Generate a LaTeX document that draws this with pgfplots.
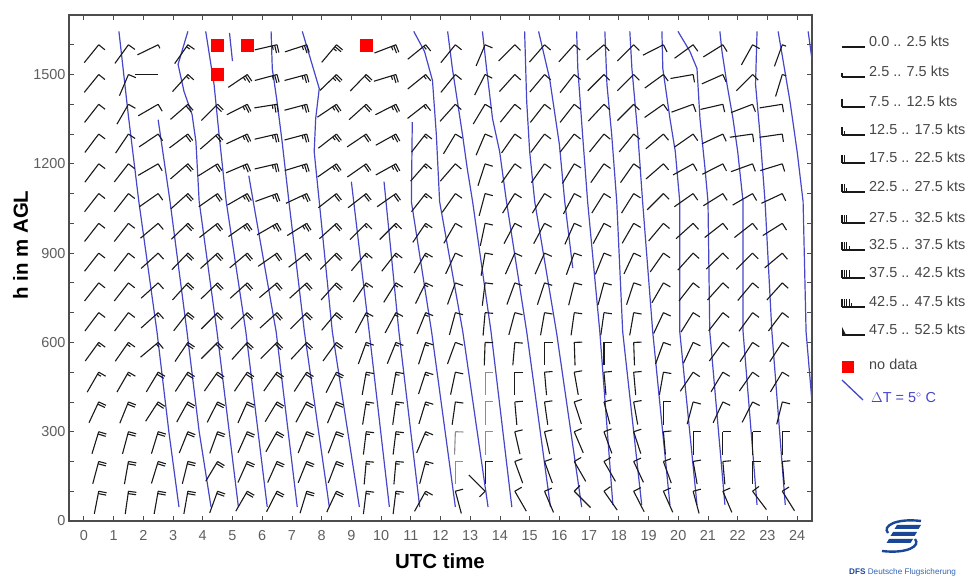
\documentclass[border=0pt]{standalone}
\usepackage{pgfplots}
\pgfplotsset{compat=1.18}
\usepackage{pgfplotstable}
\usepackage{fontspec}
\setmainfont{Liberation Sans}

\definecolor{tline}{RGB}{70,70,200}
\definecolor{barbc}{RGB}{25,25,25}
\definecolor{barbg}{RGB}{140,140,140}
\definecolor{ticklab}{RGB}{95,95,95}
\definecolor{legtext}{RGB}{70,70,70}
\definecolor{dfsblue}{RGB}{25,70,150}
\definecolor{dfslight}{RGB}{50,100,180}

\pgfdeclareplotmark{nomark}{}
\def\barbcol{barbc}

% wind barb: #1 = shaft angle seen from the tip (deg), #2 = speed in kts
\newcommand\drawbarb[2]{%
  \pgfmathsetmacro\bcx{cos(#1)}\pgfmathsetmacro\bsy{sin(#1)}%
  \pgfmathtruncatemacro\bnh{round(#2/5)}%
  \pgfmathtruncatemacro\bnf{floor(\bnh/2)}%
  \pgfmathtruncatemacro\bnhalf{\bnh-2*\bnf}%
  \pgfmathsetmacro\bex{23*\bcx}\pgfmathsetmacro\bey{23*\bsy}%
  \pgfmathsetmacro\bfx{-8*\bsy}\pgfmathsetmacro\bfy{8*\bcx}%
  \pgfmathsetmacro\bhx{-4*\bsy}\pgfmathsetmacro\bhy{4*\bcx}%
  \draw[\barbcol, line width=1.1bp] (0bp,0bp) -- (\bex bp,\bey bp);
  \ifnum\bnh>9
    \pgfmathsetmacro\btx{4*\bcx}\pgfmathsetmacro\bty{4*\bsy}%
    \fill[\barbcol] (0bp,0bp) -- (\bfx bp,\bfy bp) -- (\btx bp,\bty bp) -- cycle;
  \else
    \ifnum\bnf>0
      \foreach \bi in {1,...,\bnf}{%
        \pgfmathsetmacro\bpx{(\bi-1)*2.4*\bcx}\pgfmathsetmacro\bpy{(\bi-1)*2.4*\bsy}%
        \draw[\barbcol, line width=1.1bp] (\bpx bp,\bpy bp) -- ++(\bfx bp,\bfy bp);}%
    \fi
    \ifnum\bnhalf>0
      \pgfmathsetmacro\bpx{\bnf*2.4*\bcx}\pgfmathsetmacro\bpy{\bnf*2.4*\bsy}%
      \draw[\barbcol, line width=1.1bp] (\bpx bp,\bpy bp) -- ++(\bhx bp,\bhy bp);%
    \fi
  \fi}

% wind barbs: time, height, shaft angle, speed (kts)
\pgfplotstableread[row sep=\\]{
x h d s\\
0.5 1600 231 10\\ 0.5 1500 231 10\\ 0.5 1400 232 10\\ 0.5 1300 233 10\\ 0.5 1200 233 10\\ 0.5 1100 232 10\\ 0.5 1000 232 10\\ 0.5 900 232 10\\
0.5 800 232 10\\ 0.5 700 233 10\\ 0.5 600 234 15\\ 0.5 500 240 15\\ 0.5 400 245 20\\ 0.5 300 253 20\\ 0.5 200 255 20\\ 0.5 100 259 20\\
1.5 1600 234 10\\ 1.5 1500 247 10\\ 1.5 1400 240 10\\ 1.5 1300 236 10\\ 1.5 1200 232 10\\ 1.5 1100 232 10\\ 1.5 1000 232 10\\ 1.5 900 232 10\\
1.5 800 232 10\\ 1.5 700 233 10\\ 1.5 600 235 15\\ 1.5 500 240 15\\ 1.5 400 248 20\\ 1.5 300 255 20\\ 1.5 200 260 20\\ 1.5 100 262 20\\
2.5 1600 206 5\\ 2.5 1500 180 2\\ 2.5 1400 210 10\\ 2.5 1300 214 10\\ 2.5 1200 210 10\\ 2.5 1100 215 10\\ 2.5 1000 220 10\\ 2.5 900 222 10\\
2.5 800 222 10\\ 2.5 700 222 15\\ 2.5 600 220 15\\ 2.5 500 239 20\\ 2.5 400 237 20\\ 2.5 300 253 20\\ 2.5 200 253 20\\ 2.5 100 260 20\\
3.5 1600 235 15\\ 3.5 1500 228 15\\ 3.5 1400 221 20\\ 3.5 1300 217 20\\ 3.5 1200 221 20\\ 3.5 1100 222 20\\ 3.5 1000 224 20\\ 3.5 900 226 20\\
3.5 800 228 20\\ 3.5 700 232 20\\ 3.5 600 236 20\\ 3.5 500 237 20\\ 3.5 400 241 20\\ 3.5 300 248 20\\ 3.5 200 256 20\\ 3.5 100 260 20\\
4.5 1400 225 20\\ 4.5 1300 221 20\\ 4.5 1200 212 20\\ 4.5 1100 215 20\\ 4.5 1000 218 20\\ 4.5 900 222 20\\
4.5 800 224 20\\ 4.5 700 225 20\\ 4.5 600 225 20\\ 4.5 500 235 20\\ 4.5 400 243 20\\ 4.5 300 250 20\\ 4.5 200 239 20\\ 4.5 100 250 20\\
5.5 1500 214 25\\ 5.5 1400 207 25\\ 5.5 1300 205 25\\ 5.5 1200 203 25\\ 5.5 1100 210 25\\ 5.5 1000 215 25\\ 5.5 900 220 20\\
5.5 800 222 20\\ 5.5 700 225 20\\ 5.5 600 228 20\\ 5.5 500 236 20\\ 5.5 400 246 20\\ 5.5 300 246 20\\ 5.5 200 246 20\\ 5.5 100 240 20\\
6.5 1600 193 25\\ 6.5 1500 195 25\\ 6.5 1400 189 25\\ 6.5 1300 193 25\\ 6.5 1200 193 25\\ 6.5 1100 200 25\\ 6.5 1000 210 25\\ 6.5 900 215 20\\
6.5 800 220 20\\ 6.5 700 222 20\\ 6.5 600 225 20\\ 6.5 500 235 20\\ 6.5 400 239 20\\ 6.5 300 241 20\\ 6.5 200 246 20\\ 6.5 100 243 20\\
7.5 1600 198 25\\ 7.5 1500 195 25\\ 7.5 1400 195 25\\ 7.5 1300 195 25\\ 7.5 1200 197 25\\ 7.5 1100 205 25\\ 7.5 1000 212 25\\ 7.5 900 218 20\\
7.5 800 222 20\\ 7.5 700 225 20\\ 7.5 600 227 20\\ 7.5 500 237 20\\ 7.5 400 242 20\\ 7.5 300 248 20\\ 7.5 200 248 20\\ 7.5 100 253 20\\
8.5 1600 230 25\\ 8.5 1500 224 25\\ 8.5 1400 214 25\\ 8.5 1300 218 25\\ 8.5 1200 215 25\\ 8.5 1100 218 20\\ 8.5 1000 222 20\\ 8.5 900 225 20\\
8.5 800 228 20\\ 8.5 700 230 20\\ 8.5 600 234 20\\ 8.5 500 243 20\\ 8.5 400 247 20\\ 8.5 300 249 20\\ 8.5 200 249 20\\ 8.5 100 245 20\\
9.5 1500 226 20\\ 9.5 1400 222 20\\ 9.5 1300 214 20\\ 9.5 1200 215 20\\ 9.5 1100 218 20\\ 9.5 1000 225 15\\ 9.5 900 230 15\\
9.5 800 236 15\\ 9.5 700 242 15\\ 9.5 600 250 15\\ 9.5 500 260 15\\ 9.5 400 261 15\\ 9.5 300 263 15\\ 9.5 200 265 15\\ 9.5 100 263 15\\
10.5 1600 201 25\\ 10.5 1500 197 25\\ 10.5 1400 207 25\\ 10.5 1300 209 25\\ 10.5 1200 209 25\\ 10.5 1100 215 20\\ 10.5 1000 225 15\\ 10.5 900 232 15\\
10.5 800 238 15\\ 10.5 700 242 15\\ 10.5 600 248 15\\ 10.5 500 260 15\\ 10.5 400 262 15\\ 10.5 300 263 15\\ 10.5 200 265 15\\ 10.5 100 263 15\\
11.5 1600 219 15\\ 11.5 1500 219 15\\ 11.5 1400 218 15\\ 11.5 1300 232 15\\ 11.5 1200 229 15\\ 11.5 1100 232 15\\ 11.5 1000 236 15\\ 11.5 900 240 15\\
11.5 800 244 15\\ 11.5 700 248 15\\ 11.5 600 252 15\\ 11.5 500 252 15\\ 11.5 400 253 15\\ 11.5 300 247 15\\ 11.5 200 255 15\\ 11.5 100 241 15\\
12.5 1600 231 10\\ 12.5 1500 231 10\\ 12.5 1400 228 10\\ 12.5 1300 239 10\\ 12.5 1200 229 10\\ 12.5 1100 235 10\\ 12.5 1000 240 10\\ 12.5 900 245 10\\
12.5 800 250 10\\ 12.5 700 255 10\\ 12.5 600 250 10\\ 12.5 500 258 10\\ 12.5 400 262 10\\ 12.5 100 285 10\\
13.5 1600 247 10\\ 13.5 1500 243 10\\ 13.5 1400 239 10\\ 13.5 1300 247 10\\ 13.5 1200 252 10\\ 13.5 1100 255 10\\ 13.5 1000 258 10\\ 13.5 900 260 10\\
13.5 800 263 10\\ 13.5 700 265 10\\ 13.5 600 268 10\\ 13.5 200 270 10\\ 13.5 100 135 10\\
14.5 1600 225 10\\ 14.5 1500 228 10\\ 14.5 1400 231 10\\ 14.5 1300 235 10\\ 14.5 1200 235 10\\ 14.5 1100 238 10\\ 14.5 1000 242 10\\ 14.5 900 246 10\\
14.5 800 250 10\\ 14.5 700 255 10\\ 14.5 600 265 10\\ 14.5 500 270 10\\ 14.5 400 275 10\\ 14.5 300 283 10\\ 14.5 200 290 10\\ 14.5 100 300 10\\
15.5 1600 229 10\\ 15.5 1500 230 10\\ 15.5 1400 232 10\\ 15.5 1300 233 10\\ 15.5 1200 235 10\\ 15.5 1100 238 10\\ 15.5 1000 242 10\\ 15.5 900 246 10\\
15.5 800 252 10\\ 15.5 700 260 10\\ 15.5 600 270 10\\ 15.5 500 275 10\\ 15.5 400 278 10\\ 15.5 300 283 10\\ 15.5 200 290 10\\ 15.5 100 293 10\\
16.5 1600 228 10\\ 16.5 1500 232 10\\ 16.5 1400 232 10\\ 16.5 1300 232 10\\ 16.5 1200 239 10\\ 16.5 1100 242 10\\ 16.5 1000 246 10\\ 16.5 900 250 10\\
16.5 800 256 10\\ 16.5 700 262 10\\ 16.5 600 272 10\\ 16.5 500 280 10\\ 16.5 400 288 10\\ 16.5 300 293 10\\ 16.5 200 300 10\\ 16.5 100 315 10\\
17.5 1600 221 10\\ 17.5 1500 225 10\\ 17.5 1400 227 10\\ 17.5 1300 231 10\\ 17.5 1200 235 10\\ 17.5 1100 238 10\\ 17.5 1000 242 10\\ 17.5 900 248 10\\
17.5 800 255 10\\ 17.5 700 262 10\\ 17.5 600 270 10\\ 17.5 500 275 10\\ 17.5 400 285 10\\ 17.5 300 290 10\\ 17.5 200 300 10\\ 17.5 100 305 10\\
18.5 1600 225 10\\ 18.5 1500 225 10\\ 18.5 1400 225 10\\ 18.5 1300 231 10\\ 18.5 1200 235 10\\ 18.5 1100 238 10\\ 18.5 1000 240 10\\ 18.5 900 245 10\\
18.5 800 252 10\\ 18.5 700 260 10\\ 18.5 600 272 10\\ 18.5 500 275 10\\ 18.5 400 280 10\\ 18.5 300 288 10\\ 18.5 200 295 10\\ 18.5 100 297 10\\
19.5 1600 207 10\\ 19.5 1500 216 10\\ 19.5 1400 215 10\\ 19.5 1300 220 10\\ 19.5 1200 221 10\\ 19.5 1100 225 10\\ 19.5 1000 230 10\\ 19.5 900 235 10\\
19.5 800 240 10\\ 19.5 700 245 10\\ 19.5 600 250 10\\ 19.5 500 260 10\\ 19.5 400 270 10\\ 19.5 300 275 10\\ 19.5 200 290 10\\ 19.5 100 294 10\\
20.5 1600 216 10\\ 20.5 1500 190 10\\ 20.5 1400 200 10\\ 20.5 1300 215 10\\ 20.5 1200 209 10\\ 20.5 1100 215 10\\ 20.5 1000 222 10\\ 20.5 900 228 10\\
20.5 800 232 10\\ 20.5 700 238 10\\ 20.5 600 245 10\\ 20.5 500 236 10\\ 20.5 400 255 10\\ 20.5 300 270 10\\ 20.5 200 280 10\\ 20.5 100 285 10\\
21.5 1600 212 10\\ 21.5 1500 204 10\\ 21.5 1400 193 10\\ 21.5 1300 205 10\\ 21.5 1200 207 10\\ 21.5 1100 212 10\\ 21.5 1000 218 10\\ 21.5 900 224 10\\
21.5 800 228 10\\ 21.5 700 232 10\\ 21.5 600 234 10\\ 21.5 500 239 10\\ 21.5 400 245 10\\ 21.5 300 270 10\\ 21.5 200 275 10\\ 21.5 100 293 10\\
22.5 1600 241 10\\ 22.5 1500 225 10\\ 22.5 1400 201 10\\ 22.5 1300 188 10\\ 22.5 1200 200 10\\ 22.5 1100 210 10\\ 22.5 1000 218 10\\ 22.5 900 225 10\\
22.5 800 230 10\\ 22.5 700 234 10\\ 22.5 600 237 10\\ 22.5 500 235 10\\ 22.5 400 243 10\\ 22.5 300 270 10\\ 22.5 200 270 10\\ 22.5 100 307 10\\
23.5 1600 250 5\\ 23.5 1500 253 5\\ 23.5 1400 189 10\\ 23.5 1300 188 10\\ 23.5 1200 197 10\\ 23.5 1100 205 10\\ 23.5 1000 212 10\\ 23.5 900 220 10\\
23.5 800 228 10\\ 23.5 700 233 10\\ 23.5 600 237 10\\ 23.5 500 239 10\\ 23.5 400 256 10\\ 23.5 300 270 10\\ 23.5 200 275 10\\ 23.5 100 302 10\\
}\barbs

% barbs drawn in grey in the original
\pgfplotstableread[row sep=\\]{
x h d s\\
12.5 300 268 10\\ 12.5 200 270 10\\ 13.5 500 270 10\\ 13.5 400 270 10\\ 13.5 300 270 10\\
}\greybarbs

\begin{document}
\begin{tikzpicture}
\begin{axis}[
    scale only axis,
    width=743bp, height=506bp,
    xmin=-0.5, xmax=24.5,
    ymin=0, ymax=1700,
    xtick={0,...,24},
    ytick={0,300,...,1500},
    minor ytick={100,200,...,1600},
    major tick length=5bp, minor tick length=5bp,
    tick style={black!70, line width=0.8bp},
    axis line style={black!70, line width=1.3bp},
    tick label style={font=\fontsize{14.5}{14.5}\selectfont, text=ticklab},
    /pgf/number format/assume math mode=true,
    /pgf/number format/set thousands separator={},
    xticklabel style={anchor=base, yshift=-19bp},
    tprof/.style={tline, line width=1.2bp},
]
% wind barbs
\addplot[scatter, only marks, mark=nomark,
    visualization depends on={\thisrow{d} \as \bdir},
    visualization depends on={\thisrow{s} \as \bspd},
    scatter/@pre marker code/.code={\drawbarb{\bdir}{\bspd}},
    scatter/@post marker code/.code={},
] table[x=x, y=h] {\barbs};
\addplot[scatter, only marks, mark=nomark,
    visualization depends on={\thisrow{d} \as \bdir},
    visualization depends on={\thisrow{s} \as \bspd},
    scatter/@pre marker code/.code={\def\barbcol{barbg}\drawbarb{\bdir}{\bspd}},
    scatter/@post marker code/.code={},
] table[x=x, y=h] {\greybarbs};

% temperature profiles (Delta T = 5 C per hour step)
\addplot[tprof] coordinates {(1.18,1645) (1.5,1360) (1.85,1073) (2.46,636) (2.86,300) (3.2,47)};
\addplot[tprof] coordinates {(2.5,1348) (2.9,1073) (3.47,636) (3.88,300) (4.28,47)};
\addplot[tprof] coordinates {(3.5,1645) (3.17,1534) (3.37,1443) (3.64,1366) (3.77,1275) (3.88,1073) (4.48,636) (5.2,47)};
\addplot[tprof] coordinates {(4.1,1645) (4.38,1467) (4.55,1298) (4.79,1073) (5.45,636) (6.17,47)};
\addplot[tprof] coordinates {(4.9,1640) (5.0,1545)};
\addplot[tprof] coordinates {(5.55,1160) (5.7,1073) (6.47,636) (7.18,47)};
\addplot[tprof] coordinates {(6.3,1645) (6.34,1520) (6.5,1409) (6.67,1275) (6.9,1073) (7.42,636) (8.26,47)};
\addplot[tprof] coordinates {(7.35,1645) (7.92,1453) (7.8,1352) (7.75,1241) (7.92,1073) (8.36,636) (9.27,47)};
\addplot[tprof] coordinates {(9.0,1140) (9.6,636) (10.28,47)};
\addplot[tprof] coordinates {(10.1,1140) (10.6,636) (11.3,47)};
\addplot[tprof] coordinates {(11.05,1340) (11.02,1073) (11.7,636) (12.5,47)};
\addplot[tprof] coordinates {(11.1,1645) (11.46,1578) (11.73,1480) (11.86,1298) (11.97,1073) (12.75,636) (13.6,47)};
\addplot[tprof] coordinates {(12.24,1645) (12.4,1520) (12.57,1409) (12.74,1298) (12.9,1184) (13.08,1073) (13.7,636) (14.4,47)};
\addplot[tprof] coordinates {(13.41,1645) (13.55,1520) (13.75,1352) (13.99,1241) (14.22,1073) (14.9,636) (15.7,47)};
\addplot[tprof] coordinates {(14.83,1645) (14.9,1409) (15.0,1241) (15.17,1073) (15.9,636) (16.75,47)};
\addplot[tprof] coordinates {(15.3,1645) (15.67,1487) (16.0,1265) (16.18,1073) (16.45,850)};
\addplot[tprof] coordinates {(16.58,1645) (16.62,1520) (16.78,1298) (16.95,1073) (17.36,636) (17.8,54)};
\addplot[tprof] coordinates {(17.53,1645) (17.6,1467) (17.76,1298) (17.93,1073) (18.13,636) (18.77,54)};
\addplot[tprof] coordinates {(18.37,1645) (18.44,1520) (18.64,1298) (18.8,1073) (19.14,636) (19.72,54)};
\addplot[tprof] coordinates {(19.45,1645) (19.48,1520) (19.72,1352) (19.9,1241) (20.05,1073) (20.05,636) (20.63,54)};
\addplot[tprof] coordinates {(19.99,1645) (20.39,1578) (20.63,1520) (20.73,1352) (20.9,1184) (21.0,1073) (21.06,636) (21.57,54)};
\addplot[tprof] coordinates {(21.4,1645) (21.47,1578) (21.64,1467) (21.84,1352) (22.0,1241) (22.18,1073) (22.18,636) (22.65,54)};
\addplot[tprof] coordinates {(22.65,1645) (22.6,1467) (22.75,1298) (22.92,1073) (23.15,636) (23.6,54)};
\addplot[tprof] coordinates {(23.36,1645) (23.53,1545) (23.76,1409) (24.0,1241) (24.2,1073) (24.3,636) (24.5,400)};
\addplot[tprof] coordinates {(24.37,1645) (24.5,1550)};

% no data
\addplot[only marks, mark=square*, mark size=6bp, red, mark options={draw=none, fill=red}]
  coordinates {(4.5,1600) (4.5,1500) (5.5,1600) (9.5,1600)};
\end{axis}

\path (current axis.south west) ++(-69bp,-60bp) coordinate (BL);
\begin{scope}[shift={(BL)}, yshift=581bp, x=1bp, y=-1bp]
  % axis labels
  \node[anchor=base, font=\fontsize{20.5}{20.5}\selectfont\bfseries] at (440,569) {UTC time};
  \node[anchor=base, rotate=90, font=\fontsize{20.5}{20.5}\selectfont\bfseries] at (28,245) {h in m AGL};
  % legend
  \foreach \yy/\sp/\lab in {47/0/0.0 .. 2.5 kts, 77/5/2.5 .. 7.5 kts, 107/10/7.5 .. 12.5 kts,
      135/15/12.5 .. 17.5 kts, 163/20/17.5 .. 22.5 kts, 192/25/22.5 .. 27.5 kts,
      223/30/27.5 .. 32.5 kts, 250/35/32.5 .. 37.5 kts, 278/40/37.5 .. 42.5 kts,
      307/45/42.5 .. 47.5 kts, 335/50/47.5 .. 52.5 kts}{
    \begin{scope}[shift={(842,\yy)}]\drawbarb{0}{\sp}\end{scope}
    \node[anchor=base west, inner sep=0pt, text=legtext, font=\fontsize{14.5}{14.5}\selectfont] at (869,\yy) {\lab};
  }
  \fill[red] (842,361) rectangle (854,373);
  \node[anchor=base west, inner sep=0pt, text=legtext, font=\fontsize{14.5}{14.5}\selectfont] at (869,370) {no data};
  \draw[tline, line width=1.3bp] (842,380) -- (863,400);
  \node[anchor=base west, inner sep=0pt, text=tline, font=\fontsize{14.5}{14.5}\selectfont] at (871,403) {$\Delta$T = 5$^\circ$ C};
  % logo
  \draw[dfsblue, line width=2.4bp] (921,521) .. controls (896,518) and (882,526) .. (888,533);
  \fill[dfsblue] (897,525) -- (921,525) -- (918.5,529) -- (894.5,529) -- cycle;
  \fill[dfsblue] (893,532) -- (917,532) -- (914.5,536) -- (890.5,536) -- cycle;
  \fill[dfsblue] (889,539) -- (913,539) -- (910.5,543) -- (886.5,543) -- cycle;
  \draw[dfsblue, line width=2.4bp] (882,551) .. controls (907,554) and (921,546) .. (915,539);
  \node[anchor=base west, inner sep=0pt, font=\fontsize{8.2}{8.2}\selectfont] at (849,575)
    {\textcolor{dfsblue}{\bfseries DFS} \textcolor{dfslight}{Deutsche Flugsicherung}};
  \pgfresetboundingbox
  \path[use as bounding box] (0,0) rectangle (967,581);
\end{scope}
\end{tikzpicture}
\end{document}
